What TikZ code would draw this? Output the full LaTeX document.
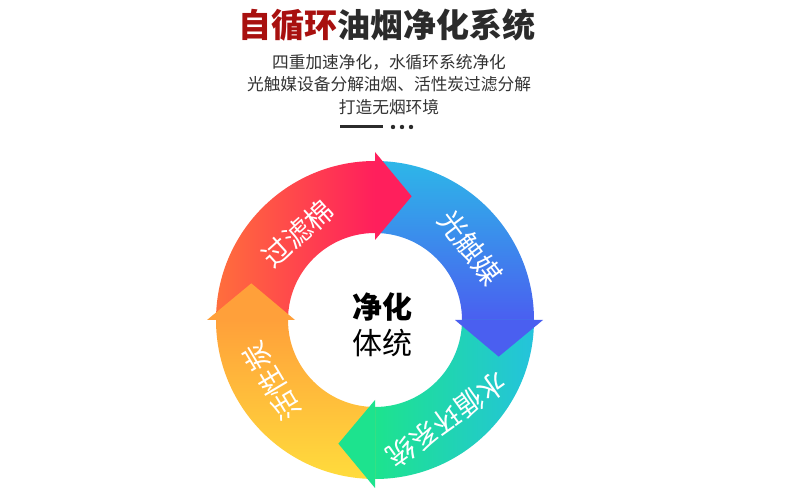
\documentclass[tikz,border=0pt]{standalone}
\usepackage{fontspec}
\setmainfont{Noto Sans CJK SC}
\usetikzlibrary{positioning}

\definecolor{titlered}{HTML}{A8100F}
\definecolor{titlegrey}{HTML}{2B2B2B}
\definecolor{textgrey}{HTML}{333333}
\definecolor{redA}{HTML}{FF6E3C}
\definecolor{redB}{HTML}{FF1F5C}
\definecolor{blueA}{HTML}{2DB7E8}
\definecolor{blueB}{HTML}{4A5FF0}
\definecolor{greenA}{HTML}{24C3DC}
\definecolor{greenB}{HTML}{1DE38E}
\definecolor{orangeA}{HTML}{FFDC3C}
\definecolor{orangeB}{HTML}{FFA03A}

\begin{document}
\begin{tikzpicture}[
  x=1pt,y=1pt,
  heading/.style={
    inner sep=0pt,
    font=\fontsize{33}{38}\selectfont\bfseries
  },
  subline/.style={
    inner sep=0pt,
    text=textgrey,
    font=\fontsize{16.7}{20}\selectfont
  },
  seglabel/.style={
    inner sep=0pt,
    text=white,
    font=\fontsize{28}{30}\selectfont
  },
  core/.style={
    inner sep=0pt,
    text=black,
    font=\fontsize{30}{34}\selectfont
  }
]
  \fill[white] (0,0) rectangle (790,500);
  \useasboundingbox (0,0) rectangle (790,500);

  \node[heading,text=titlered,anchor=west] (titlea) at (238,475) {自循环};
  \node[heading,text=titlegrey,right=0pt of titlea] (titleb) {油烟净化系统};

  \node[subline] (subone) at (389,438) {四重加速净化，水循环系统净化};
  \node[subline] (subtwo) at (389,416) {光触媒设备分解油烟、活性炭过滤分解};
  \node[subline] (subthree) at (389,393) {打造无烟环境};

  \coordinate (barl) at (340,373);
  \coordinate (barr) at (383,373);
  \draw[titlegrey,line width=3pt] (barl) -- (barr);
  \foreach \x in {393,402,411}
    \fill[titlegrey] (\x,373) circle[radius=2.2];

  \begin{scope}[shift={(375,180)}]
    \shade[left color=redA,right color=redB]
      (180:159) arc[start angle=180,end angle=90,radius=159]
      -- (90:87) arc[start angle=90,end angle=180,radius=87] -- cycle;
    \shade[top color=blueA,bottom color=blueB]
      (90:159) arc[start angle=90,end angle=0,radius=159]
      -- (0:87) arc[start angle=0,end angle=90,radius=87] -- cycle;
    \shade[right color=greenA,left color=greenB]
      (0:159) arc[start angle=0,end angle=-90,radius=159]
      -- (-90:87) arc[start angle=-90,end angle=0,radius=87] -- cycle;
    \shade[bottom color=orangeA,top color=orangeB]
      (-90:159) arc[start angle=-90,end angle=-180,radius=159]
      -- (180:87) arc[start angle=180,end angle=270,radius=87] -- cycle;

    \foreach \a/\c in {90/redB,0/blueB,-90/greenB,180/orangeB}
      \fill[\c] (\a:168) -- (\a-16.5:129) -- (\a:80) -- cycle;

    \node[seglabel,rotate=42] (filter) at (131.9:116) {过滤棉};
    \node[seglabel,rotate=-52.8] (photo) at (37.2:120) {光触媒};
    \node[seglabel,rotate=-144.4] (water) at (-54.4:123) {水循环系统};
    \node[seglabel,rotate=120.8] (carbon) at (210.8:120) {活性炭};

    \node[core,font=\fontsize{30}{34}\selectfont\bfseries] (coretop) at (7,13) {净化};
    \node[core] (corebot) at (7,-23) {体统};
  \end{scope}
\end{tikzpicture}
\end{document}
